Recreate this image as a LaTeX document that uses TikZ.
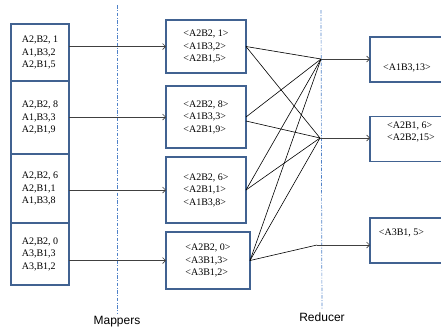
\documentclass[tikz,border=0pt]{standalone}
\usepackage{fontspec}
\setmainfont{Liberation Serif}
\newfontfamily\tagfont{Liberation Sans}
\usetikzlibrary{positioning, arrows.meta}
\definecolor{boxblue}{RGB}{65,98,145}
\definecolor{sepblue}{RGB}{80,130,200}

\begin{document}
\begin{tikzpicture}[x=1pt, y=-1pt,
    box/.style={draw=boxblue, line width=1.2pt, inner sep=0pt, outer sep=0pt, align=left, font=\fontsize{10}{12.5}\selectfont},
    inbox/.style={box, minimum width=58pt},
    mapbox/.style={box, minimum width=80pt},
    redbox/.style={box, minimum width=76pt, minimum height=45pt},
    txt/.style={inner sep=0pt, align=left, font=\fontsize{10}{12.5}\selectfont},
    flow/.style={-{Straight Barb[length=3pt, width=6pt]}, draw=black!75, line width=0.7pt},
    wire/.style={line width=0.6pt},
    sepline/.style={draw=sepblue, line width=0.7pt, dash pattern=on 3.5pt off 1.5pt on 1pt off 1.5pt},
    tag/.style={font=\tagfont\fontsize{12}{14}\selectfont}]
    \useasboundingbox (0,0) rectangle (441,330);

    % Separators
    \coordinate (maptop) at (117,5);
    \coordinate (redtop) at (321,10);
    \node[tag] (maplbl) at (117,322) {Mappers};
    \node[tag] (redlbl) at (322,317) {Reducer};
    \draw[sepline] (maptop) -- (maplbl);
    \draw[sepline] (redtop) -- (redlbl);

    % Input splits
    \node[inbox, minimum height=57pt] (in1) at (40,52.5) {A2,B2, 1\\A1,B3,2\\A2,B1,5};
    \node[inbox, minimum height=73pt, below=0pt of in1] (in2) {A2,B2, 8\\A1,B3,3\\A2,B1,9};
    \node[inbox, minimum height=69pt, below=0pt of in2] (in3) {A2,B2, 6\\A2,B1,1\\A1,B3,8};
    \node[inbox, minimum height=62pt, below=0pt of in3] (in4) {A2,B2, 0\\A3,B1,3\\A3,B1,2};

    % Mappers
    \node[mapbox, minimum height=53pt] (m1) at (206,46.5) {<A2B2, 1>\\<A1B3,2>\\<A2B1,5>};
    \node[mapbox, minimum height=62pt] (m2) at (206,117) {<A2B2, 8>\\<A1B3,3>\\<A2B1,9>};
    \node[mapbox, minimum height=66pt] (m3) at (206,190) {<A2B2, 6>\\<A2B1,1>\\<A1B3,8>};
    \node[mapbox, minimum width=84pt, minimum height=57pt] (m4) at (208,260.5) {<A2B2, 0>\\<A3B1,3>\\<A3B1,2>};

    % Reducers
    \node[redbox] (r1) at (408,59.5) {};
    \node[redbox] (r2) at (408,139) {};
    \node[redbox] (r3) at (408,240.5) {};
    \node[txt] (r1txt) at (407,68) {<A1B3,13>};
    \node[txt] (r2txt) at (411,132) {<A2B1, 6>\\<A2B2,15>};
    \node[txt] (r3txt) at (401.5,233) {<A3B1, 5>};

    % Arrows
    \foreach \i in {1,...,4}
        \draw[flow] (m\i.west -| in\i.east) -- (m\i.west);

    % Shuffle
    \coordinate (h1) at (321,59);
    \coordinate (h2) at (320,138);
    \coordinate (h3) at (317,245);
    \draw[wire] (m1.east) -- (h1);
    \draw[wire] (m1.east) -- (h2);
    \draw[wire] (m2.east) -- (h1);
    \draw[wire] ([yshift=-4pt]m2.east) -- (h2);
    \draw[wire] (m3.east) -- (h1);
    \draw[wire] (m3.east) -- (h2);
    \draw[wire] (m4.east) -- (h1);
    \draw[wire] (m4.east) -- (h2);
    \draw[wire] (m4.east) -- (h3);
    \draw[flow] (h1) -- (h1 -| r1.west);
    \draw[flow] (h2) -- (h2 -| r2.west);
    \draw[flow] (h3) -- (h3 -| r3.west);
\end{tikzpicture}
\end{document}
